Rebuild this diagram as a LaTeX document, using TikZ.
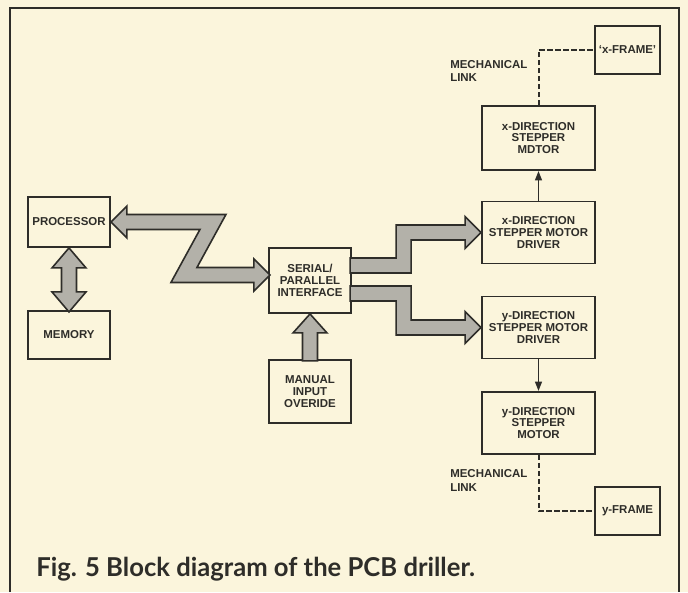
\documentclass[tikz,border=0pt]{standalone}
\usepackage{fontspec}
\setmainfont{Liberation Sans}
\newfontfamily\capfont{Lato}
\usetikzlibrary{arrows.meta, positioning, calc}
\definecolor{paper}{HTML}{FBF5DC}
\definecolor{ink}{HTML}{2E2D29}
\definecolor{shade}{HTML}{B3B1A9}
\tikzset{
  block/.style={draw=ink, line width=1.4pt, align=center, inner sep=0pt,
    text=ink, font=\bfseries\fontsize{8.6}{8.8}\selectfont},
  narrowbox/.style={block, minimum width=61.5pt},
  widebox/.style={block, minimum width=84.75pt, minimum height=46.5pt},
  framebox/.style={block, minimum width=48.75pt, minimum height=36pt},
  fat/.style={draw=ink, fill=shade, line width=1.2pt, line join=miter},
  mlink/.style={ink, line width=1.5pt, dash pattern=on 4pt off 2pt},
  note/.style={align=left, inner sep=0pt, text=ink,
    font=\bfseries\fontsize{8.6}{9.8}\selectfont},
}
\begin{document}
\begin{tikzpicture}[x=0.75pt, y=-0.75pt]
    \useasboundingbox (0,0) rectangle (688,592);
    \fill[paper] (0,0) rectangle (688,592);
    \draw[ink, line width=1.6pt] (10,592) |- (679,8) -- (679,592);

    % left column
    \node[narrowbox, minimum height=37.5pt] (proc) at (69,222) {PROCESSOR};
    \node[narrowbox, minimum height=36pt] (mem) at (69,335) {MEMORY};
    \node[narrowbox, minimum height=48.75pt] (iface) at (310,280.5) {SERIAL/\\PARALLEL\\INTERFACE};
    \node[narrowbox, minimum height=47.25pt] (manual) at (310,391.5) {MANUAL\\INPUT\\OVERIDE};

    % right column
    \node[widebox, minimum height=48pt] (xmot) at (538.5,138) {x-DIRECTION\\STEPPER\\MDTOR};
    \node[widebox] (xdrv) at (538.5,232.5) {x-DIRECTION\\STEPPER MOTOR\\DRIVER};
    \node[widebox] (ydrv) at (538.5,327.5) {y-DIRECTION\\STEPPER MOTOR\\DRIVER};
    \node[widebox] (ymot) at (538.5,423) {y-DIRECTION\\STEPPER\\MOTOR};
    \node[framebox] (xfr) at (627.5,50) {`x-FRAME'};
    \node[framebox] (yfr) at (627.5,511) {y-FRAME};

    % fat bus arrows
    \filldraw[fat] (proc.south) -- ++(17,20) -- ++(-9.5,0) -- ++(0,24) -- ++(9.5,0)
      -- ++(-17,20) -- ++(-17,-20) -- ++(9.5,0) -- ++(0,-24) -- ++(-9.5,0) -- cycle;
    \filldraw[fat] (iface.south) -- ++(17,19) -- ++(-9.5,0) -- ++(0,28) -- ++(-15,0)
      -- ++(0,-28) -- ++(-9.5,0) -- cycle;
    \filldraw[fat] (proc.east) -- ++(16,-16) -- ++(0,8.5) -- ++(99,0) -- ++(-29,53)
      -- ++(57,0) -- ++(0,-8.5) -- ++(16,16) -- ++(-16,16) -- ++(0,-8.5) -- ++(-83,0)
      -- ++(29,-53) -- ++(-73,0) -- ++(0,8.5) -- cycle;
    \filldraw[fat] (xdrv.west) -- ++(-16,-16) -- ++(0,8.5) -- ++(-69,0) -- ++(0,33)
      -- ++(-46,0) -- ++(0,15) -- ++(61,0) -- ++(0,-33) -- ++(54,0) -- ++(0,8.5) -- cycle;
    \filldraw[fat] (ydrv.west) -- ++(-16,-16) -- ++(0,8.5) -- ++(-54,0) -- ++(0,-34)
      -- ++(-61,0) -- ++(0,15) -- ++(46,0) -- ++(0,34) -- ++(69,0) -- ++(0,8.5) -- cycle;

    % drive lines
    \draw[ink, line width=1.4pt, -{Triangle[length=7pt, width=5pt]}] (xdrv.north) -- (xmot.south);
    \draw[ink, line width=1.4pt, -{Triangle[length=7pt, width=5pt]}] (ydrv.south) -- (ymot.north);

    % mechanical links
    \draw[mlink] (xmot.north) |- (xfr.west);
    \draw[mlink] (ymot.south) |- (yfr.west);
    \node[note, anchor=west] (xlink) at (450,71) {MECHANICAL\\LINK};
    \node[note, anchor=west] (ylink) at (450,480.5) {MECHANICAL\\LINK};

    \node[anchor=base west, inner sep=0pt, text=ink,
      font=\capfont\bfseries\fontsize{19.5}{22}\selectfont] (cap) at (36,576)
      {\scalebox{0.985}[1]{Fig. 5 Block diagram of the PCB driller.}};
  \end{tikzpicture}
\end{document}
